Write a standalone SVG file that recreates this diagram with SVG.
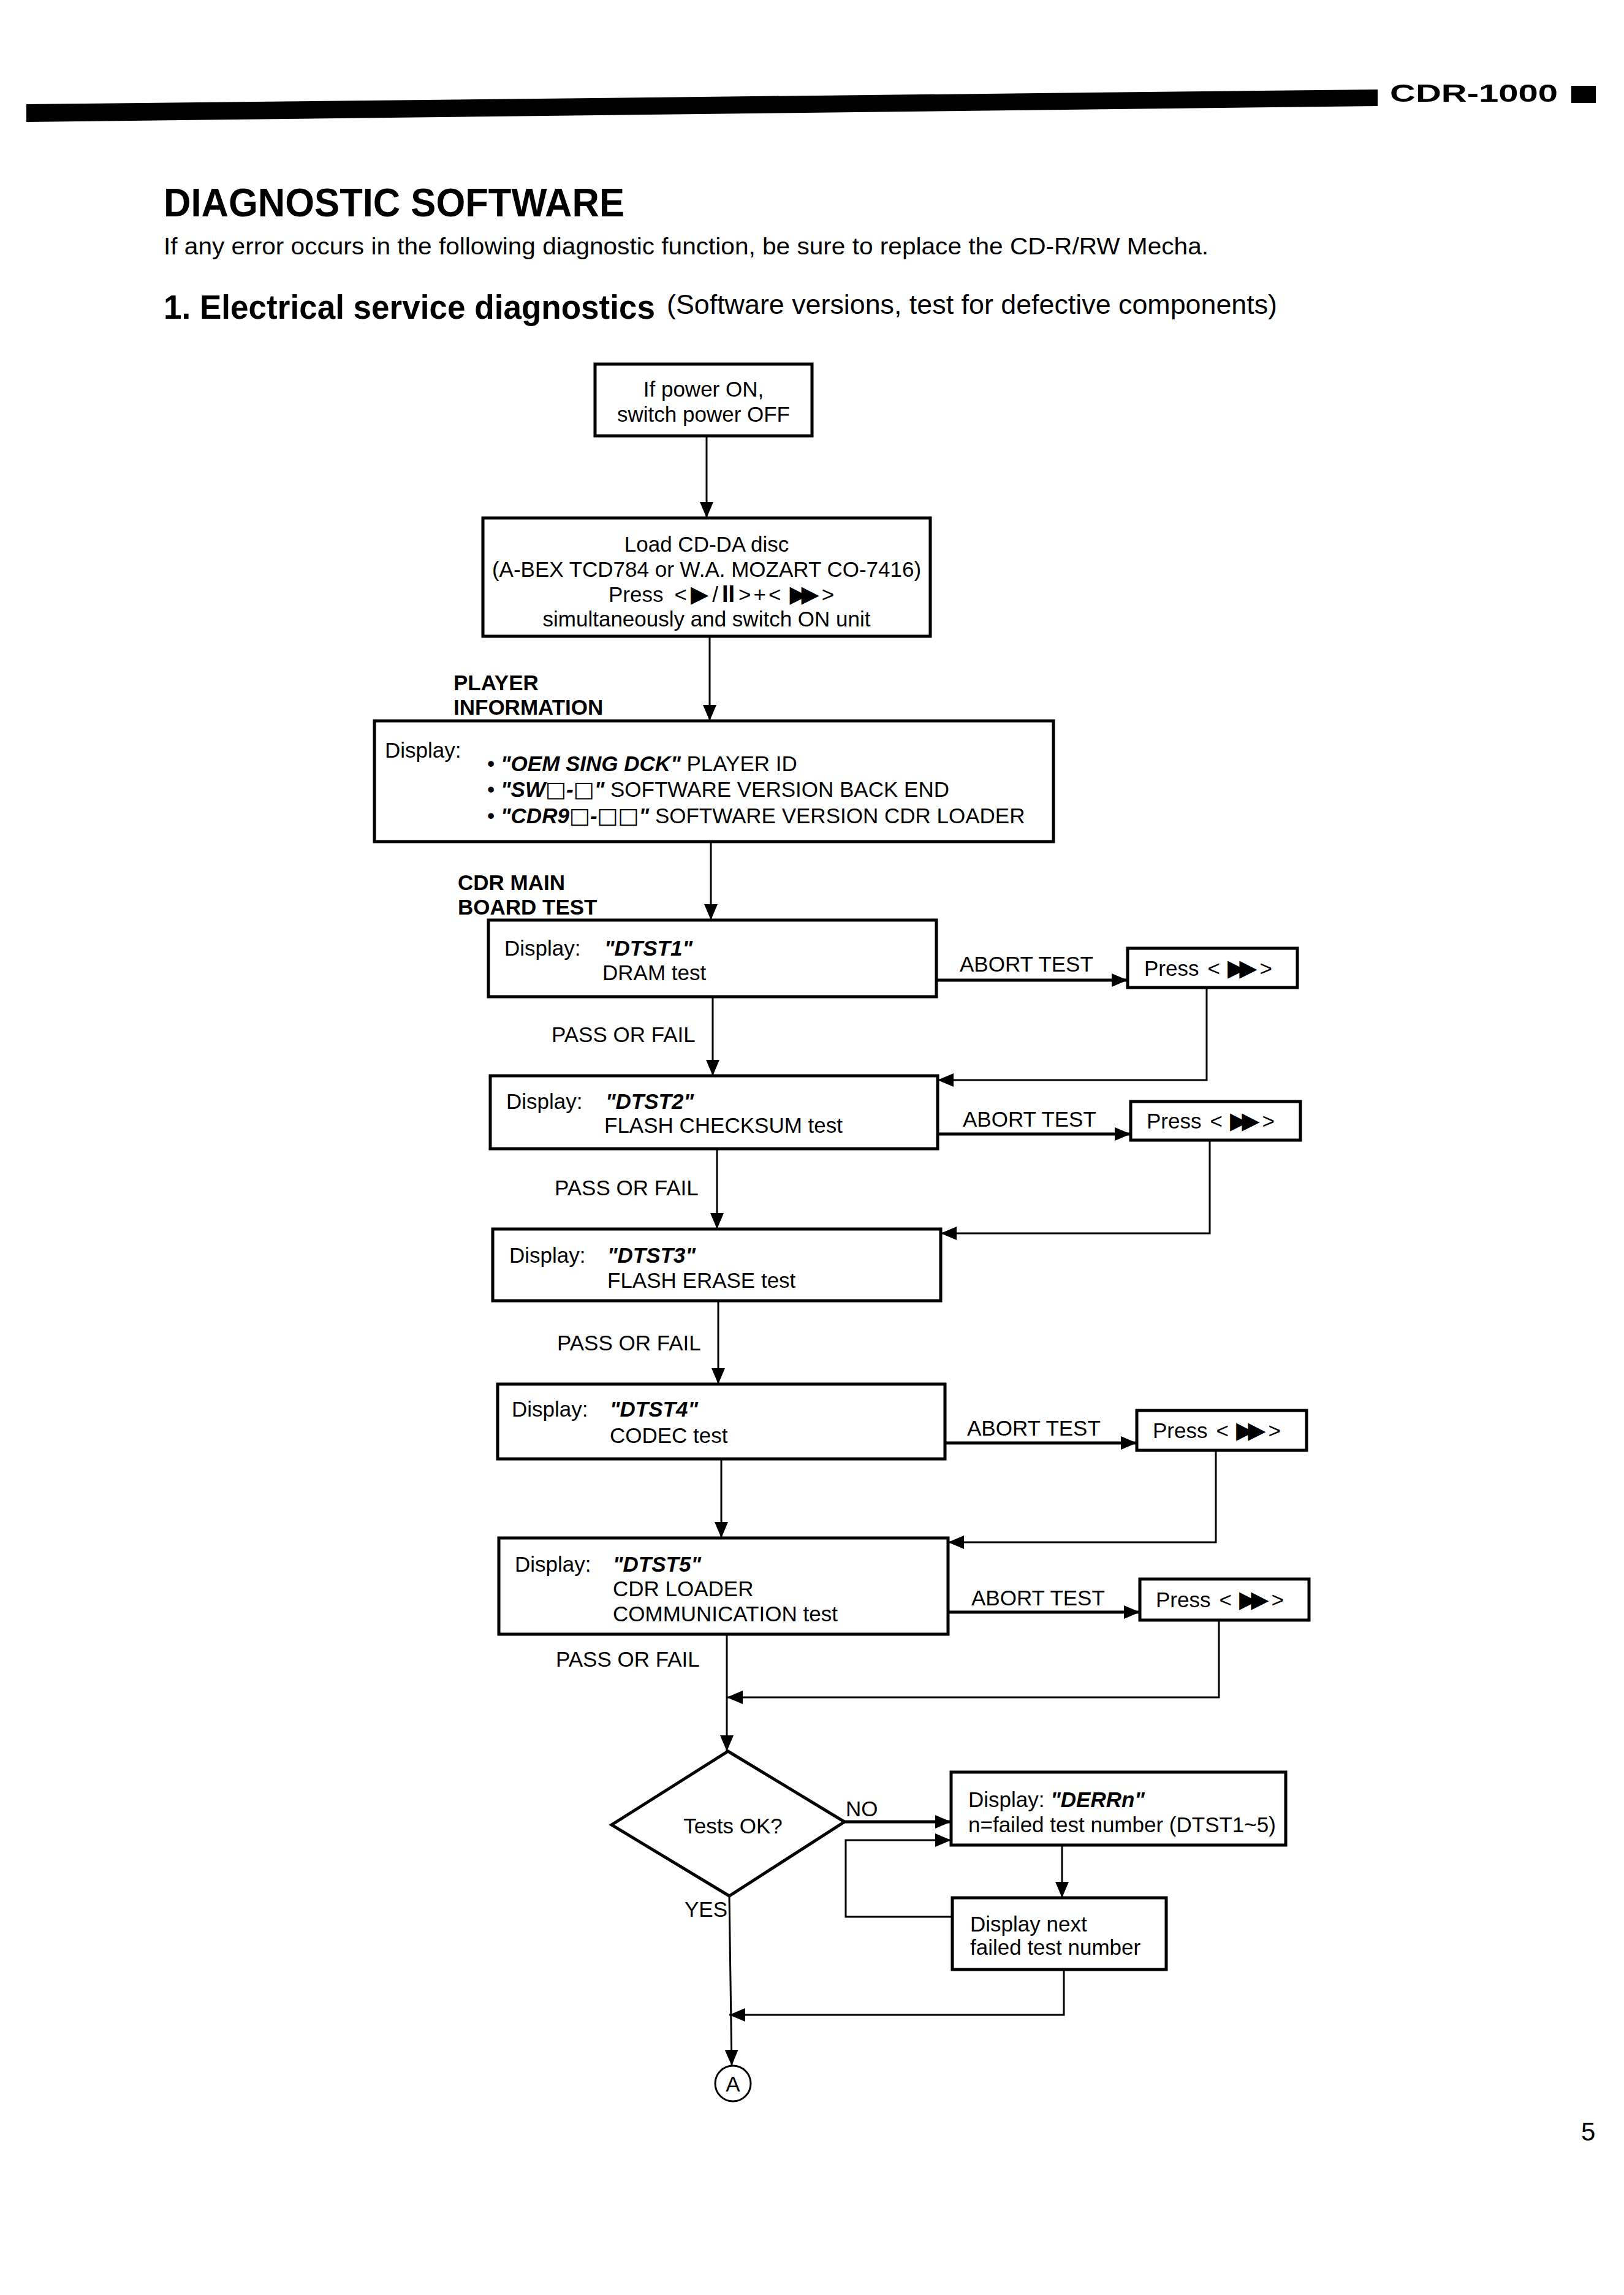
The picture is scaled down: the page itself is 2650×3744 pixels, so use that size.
<svg xmlns="http://www.w3.org/2000/svg" width="2650" height="3744" viewBox="0 0 2650 3744">
<style>
.t{font-family:"Liberation Sans",Arial,sans-serif;font-size:35px;fill:#000}
.b{font-weight:bold}
.bi{font-weight:bold;font-style:italic}
.sym{font-family:"DejaVu Sans",sans-serif;font-size:38px}
.sq{font-family:"DejaVu Sans",sans-serif;font-size:36px;font-style:italic;font-weight:bold}
.box{fill:#fff;stroke:#000;stroke-width:5}
.ln{stroke:#000;stroke-width:3;fill:none}
.lnb{stroke:#000;stroke-width:5;fill:none}
</style>
<defs>
<marker id="ah" markerUnits="userSpaceOnUse" markerWidth="26" markerHeight="22" refX="26" refY="11" orient="auto">
<path d="M0,0 L26,11 L0,22 Z" fill="#000"/>
</marker>
</defs>
<rect x="0" y="0" width="2650" height="3744" fill="#fff"/>

<g id="header">
<polygon points="43,170 2248,146 2248,173 43,199" fill="#000"/>
<text x="2268" y="166" class="t b" style="font-size:40px" textLength="274" lengthAdjust="spacingAndGlyphs">CDR-1000</text>
<rect x="2564" y="140" width="40" height="28" fill="#000"/>
</g>

<g id="titles">
<text x="267" y="353" class="t b" style="font-size:64px" textLength="752" lengthAdjust="spacingAndGlyphs">DIAGNOSTIC SOFTWARE</text>
<text x="267" y="415" class="t" style="font-size:38px" textLength="1705" lengthAdjust="spacingAndGlyphs">If any error occurs in the following diagnostic function, be sure to replace the CD-R/RW Mecha.</text>
<text x="267" y="520" class="t b" style="font-size:56px" textLength="802" lengthAdjust="spacingAndGlyphs">1. Electrical service diagnostics</text>
<text x="1088" y="512" class="t" style="font-size:44px" textLength="996" lengthAdjust="spacingAndGlyphs">(Software versions, test for defective components)</text>
</g>

<g id="connectors">
<line x1="1153" y1="711" x2="1153" y2="845" class="ln" marker-end="url(#ah)"/>
<line x1="1158" y1="1038" x2="1158" y2="1176" class="ln" marker-end="url(#ah)"/>
<line x1="1160" y1="1373" x2="1160" y2="1501" class="ln" marker-end="url(#ah)"/>
<line x1="1528" y1="1599" x2="1840" y2="1599" class="lnb" marker-end="url(#ah)"/>
<polyline points="1969,1611 1969,1762 1530,1762" class="ln" marker-end="url(#ah)"/>
<line x1="1163" y1="1626" x2="1163" y2="1755" class="ln" marker-end="url(#ah)"/>
<line x1="1530" y1="1850" x2="1845" y2="1850" class="lnb" marker-end="url(#ah)"/>
<polyline points="1974,1860 1974,2012 1535,2012" class="ln" marker-end="url(#ah)"/>
<line x1="1170" y1="1874" x2="1170" y2="2005" class="ln" marker-end="url(#ah)"/>
<line x1="1172" y1="2122" x2="1172" y2="2258" class="ln" marker-end="url(#ah)"/>
<line x1="1542" y1="2354" x2="1855" y2="2354" class="lnb" marker-end="url(#ah)"/>
<polyline points="1984,2366 1984,2516 1547,2516" class="ln" marker-end="url(#ah)"/>
<line x1="1177" y1="2380" x2="1177" y2="2509" class="ln" marker-end="url(#ah)"/>
<line x1="1547" y1="2630" x2="1860" y2="2630" class="lnb" marker-end="url(#ah)"/>
<polyline points="1989,2643 1989,2769 1186,2769" class="ln" marker-end="url(#ah)"/>
<line x1="1186" y1="2666" x2="1186" y2="2857" class="ln" marker-end="url(#ah)"/>
<line x1="1378" y1="2972" x2="1552" y2="2972" class="lnb" marker-end="url(#ah)"/>
<line x1="1733" y1="3010" x2="1733" y2="3096" class="ln" marker-end="url(#ah)"/>
<polyline points="1554,3127 1380,3127 1380,3002 1552,3002" class="ln" marker-end="url(#ah)"/>
<polyline points="1736,3213 1736,3287 1190,3287" class="ln" marker-end="url(#ah)"/>
<line x1="1190" y1="3093" x2="1194" y2="3370" class="ln" marker-end="url(#ah)"/>
</g>

<g id="n-power">
<rect x="971" y="594" width="354" height="117" class="box"/>
<text x="1148" y="647" class="t" text-anchor="middle">If power ON,</text>
<text x="1148" y="688" class="t" text-anchor="middle">switch power OFF</text>
</g>

<g id="n-load">
<rect x="788" y="845" width="730" height="193" class="box"/>
<text x="1153" y="900" class="t" text-anchor="middle">Load CD-DA disc</text>
<text x="1153" y="941" class="t" text-anchor="middle">(A-BEX TCD784 or W.A. MOZART CO-7416)</text>
<text x="993" y="982" class="t">Press<tspan dx="18">&lt;</tspan><tspan class="sym" dx="6">▶</tspan><tspan dx="6">/</tspan><tspan class="b" style="font-size:38px" dx="6">II</tspan><tspan dx="6">&gt;</tspan><tspan dx="4">+</tspan><tspan dx="4">&lt;</tspan><tspan class="sym" dx="14" letter-spacing="-10">▶▶</tspan><tspan dx="14">&gt;</tspan></text>
<text x="1153" y="1022" class="t" text-anchor="middle">simultaneously and switch ON unit</text>
</g>

<g id="lbl-player">
<text x="740" y="1126" class="t b">PLAYER</text>
<text x="740" y="1166" class="t b">INFORMATION</text>
</g>

<g id="n-player">
<rect x="611" y="1176" width="1108" height="197" class="box"/>
<text x="628" y="1236" class="t">Display:</text>
<text x="795" y="1258" class="t">• <tspan class="bi">"OEM SING DCK"</tspan> PLAYER ID</text>
<text x="795" y="1300" class="t">• <tspan class="bi">"SW</tspan><tspan class="sq">□</tspan><tspan class="bi">-</tspan><tspan class="sq">□</tspan><tspan class="bi">"</tspan> SOFTWARE VERSION BACK END</text>
<text x="795" y="1343" class="t">• <tspan class="bi">"CDR9</tspan><tspan class="sq">□</tspan><tspan class="bi">-</tspan><tspan class="sq">□□</tspan><tspan class="bi">"</tspan> SOFTWARE VERSION CDR LOADER</text>
</g>

<g id="lbl-cdr">
<text x="747" y="1452" class="t b">CDR MAIN</text>
<text x="747" y="1492" class="t b">BOARD TEST</text>
</g>

<g id="n-dtst1">
<rect x="797" y="1501" width="731" height="125" class="box"/>
<text x="823" y="1559" class="t">Display:</text>
<text x="986" y="1559" class="t bi">"DTST1"</text>
<text x="983" y="1599" class="t">DRAM test</text>
</g>
<g id="n-press1">
<rect x="1840" y="1547" width="277" height="64" class="box"/>
<text x="1867" y="1592" class="t">Press<tspan dx="14">&lt;</tspan><tspan class="sym" dx="12" letter-spacing="-10">▶▶</tspan><tspan dx="14">&gt;</tspan></text>
</g>
<text x="1566" y="1585" class="t">ABORT TEST</text>
<text x="900" y="1700" class="t">PASS OR FAIL</text>

<g id="n-dtst2">
<rect x="800" y="1755" width="730" height="119" class="box"/>
<text x="826" y="1809" class="t">Display:</text>
<text x="988" y="1809" class="t bi">"DTST2"</text>
<text x="986" y="1848" class="t">FLASH CHECKSUM test</text>
</g>
<g id="n-press2">
<rect x="1845" y="1797" width="277" height="63" class="box"/>
<text x="1871" y="1841" class="t">Press<tspan dx="14">&lt;</tspan><tspan class="sym" dx="12" letter-spacing="-10">▶▶</tspan><tspan dx="14">&gt;</tspan></text>
</g>
<text x="1571" y="1838" class="t">ABORT TEST</text>
<text x="905" y="1950" class="t">PASS OR FAIL</text>

<g id="n-dtst3">
<rect x="804" y="2005" width="731" height="117" class="box"/>
<text x="831" y="2060" class="t">Display:</text>
<text x="991" y="2060" class="t bi">"DTST3"</text>
<text x="991" y="2101" class="t">FLASH ERASE test</text>
</g>
<text x="909" y="2203" class="t">PASS OR FAIL</text>

<g id="n-dtst4">
<rect x="812" y="2258" width="730" height="122" class="box"/>
<text x="835" y="2311" class="t">Display:</text>
<text x="995" y="2311" class="t bi">"DTST4"</text>
<text x="995" y="2354" class="t">CODEC test</text>
</g>
<g id="n-press4">
<rect x="1855" y="2301" width="277" height="65" class="box"/>
<text x="1881" y="2346" class="t">Press<tspan dx="14">&lt;</tspan><tspan class="sym" dx="12" letter-spacing="-10">▶▶</tspan><tspan dx="14">&gt;</tspan></text>
</g>
<text x="1578" y="2342" class="t">ABORT TEST</text>

<g id="n-dtst5">
<rect x="814" y="2509" width="733" height="157" class="box"/>
<text x="840" y="2564" class="t">Display:</text>
<text x="1000" y="2564" class="t bi">"DTST5"</text>
<text x="1000" y="2604" class="t">CDR LOADER</text>
<text x="1000" y="2645" class="t">COMMUNICATION test</text>
</g>
<g id="n-press5">
<rect x="1860" y="2576" width="276" height="67" class="box"/>
<text x="1886" y="2622" class="t">Press<tspan dx="14">&lt;</tspan><tspan class="sym" dx="12" letter-spacing="-10">▶▶</tspan><tspan dx="14">&gt;</tspan></text>
</g>
<text x="1585" y="2619" class="t">ABORT TEST</text>
<text x="907" y="2719" class="t">PASS OR FAIL</text>

<g id="n-decision">
<polygon points="1188,2857 1378,2972 1190,3093 998,2977" class="box"/>
<text x="1196" y="2991" class="t" text-anchor="middle">Tests OK?</text>
</g>
<text x="1380" y="2963" class="t">NO</text>
<text x="1117" y="3127" class="t">YES</text>

<g id="n-derr">
<rect x="1552" y="2891" width="546" height="119" class="box"/>
<text x="1580" y="2948" class="t">Display: <tspan class="bi">"DERRn"</tspan></text>
<text x="1580" y="2989" class="t">n=failed test number (DTST1~5)</text>
</g>

<g id="n-next">
<rect x="1554" y="3096" width="349" height="117" class="box"/>
<text x="1583" y="3151" class="t">Display next</text>
<text x="1583" y="3189" class="t">failed test number</text>
</g>

<g id="n-a">
<circle cx="1196" cy="3399" r="29" fill="#fff" stroke="#000" stroke-width="3"/>
<text x="1196" y="3412" class="t" text-anchor="middle">A</text>
</g>

<text x="2580" y="3492" class="t" style="font-size:42px">5</text>
</svg>
